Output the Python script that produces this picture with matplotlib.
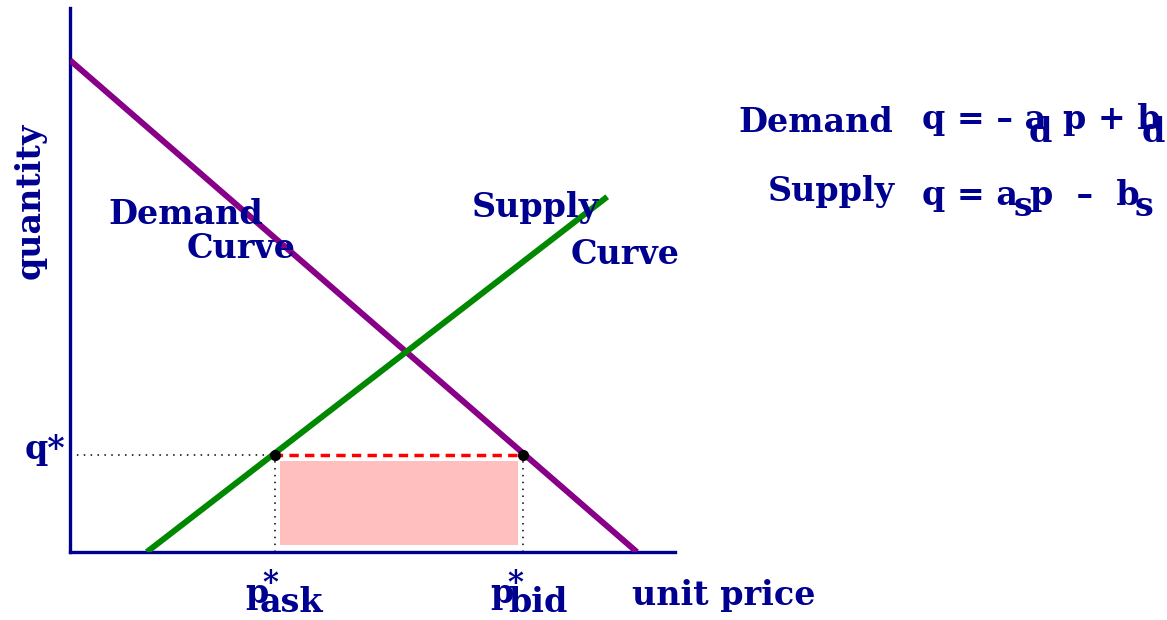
import matplotlib
matplotlib.use('Agg')
import matplotlib.pyplot as plt
from matplotlib.patches import Rectangle

# Data (price axis 0..10, quantity axis 0..10)
demand_p = [0.0, 9.37]
demand_q = [9.04, 0.0]
supply_p = [1.27, 8.88]
supply_q = [0.0, 6.53]
p_ask = 3.39
p_bid = 7.49
q_star = 1.78
surplus_box = [3.47, 7.40, 0.13, 1.67]  # p0, p1, q0, q1

W, H = 1167, 620
navy = '#000090'
font = dict(family='DejaVu Serif', weight='bold', color=navy)

fig = plt.figure(figsize=(W / 100, H / 100), dpi=100)
ax = fig.add_axes([70 / W, 1 - 552 / H, 605 / W, 544 / H])
ax.set_xlim(0, 10)
ax.set_ylim(0, 10)
for s in ['top', 'right']:
    ax.spines[s].set_visible(False)
for s in ['left', 'bottom']:
    ax.spines[s].set_color(navy)
    ax.spines[s].set_linewidth(2.4)
ax.set_xticks([])
ax.set_yticks([])

# surplus rectangle
ax.add_patch(Rectangle((surplus_box[0], surplus_box[2]),
                       surplus_box[1] - surplus_box[0],
                       surplus_box[3] - surplus_box[2],
                       facecolor='#ffbfbf', edgecolor='none', zorder=1))

# guide lines
dots = dict(color='black', ls=(0, (1, 3.5)), lw=1.1, zorder=2)
ax.plot([0, p_ask], [q_star, q_star], **dots)
ax.plot([p_ask, p_ask], [0, q_star], **dots)
ax.plot([p_bid, p_bid], [0, q_star], **dots)
ax.plot([p_ask, p_bid], [q_star, q_star], color='red', ls=(0.5, (2.7, 1.8)),
        lw=2.5, zorder=3)

# curves
ax.plot(demand_p, demand_q, color='#880088', lw=4.3, solid_capstyle='butt', zorder=4)
ax.plot(supply_p, supply_q, color='#008800', lw=4.3, solid_capstyle='butt', zorder=4)
ax.plot([p_ask, p_bid], [q_star, q_star], 'o', color='black', ms=7, zorder=5)


def t(x, y, s, size=24, **kw):
    fig.text(x / W, 1 - y / H, s, fontsize=size, va='center', **font, **kw)


t(30, 201, 'quantity', ha='center', rotation=90)
t(108, 215, 'Demand')
t(187, 248, 'Curve')
t(472, 208, 'Supply')
t(571, 254, 'Curve')
t(25, 450, 'q*')
t(245, 594, 'p')
t(262, 584, '*', size=22)
t(260, 603, 'ask')
t(490, 594, 'p')
t(507, 584, '*', size=22)
t(508, 603, 'bid')
t(632, 596, 'unit price')

t(738, 123, 'Demand')
t(922, 119, 'q = \u2013 a')
t(1029, 132, 'd')
t(1063, 119, 'p + b')
t(1142, 132, 'd')
t(768, 192, 'Supply')
t(922, 196, 'q = a')
t(1014, 207, 's')
t(1030, 196, 'p  \u2013  b')
t(1135, 207, 's')

fig.savefig('out.png', dpi=100)
